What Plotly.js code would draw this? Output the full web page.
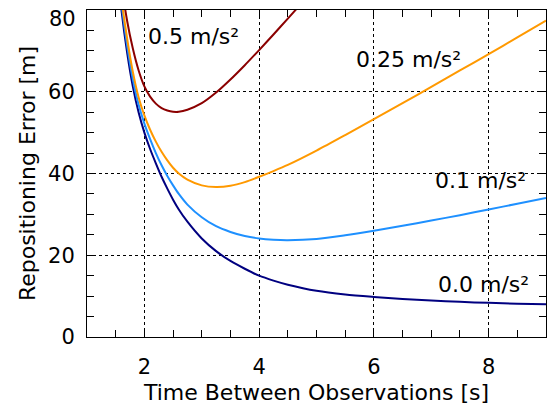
<!DOCTYPE html>
<html>
<head>
<meta charset="utf-8">
<script src="https://cdn.plot.ly/plotly-3.0.1.min.js"></script>
<style>html,body{margin:0;padding:0;background:#fff;}#chart{width:556px;height:405px;}</style>
</head>
<body>
<div id="chart"></div>
<script>
// Time between observations [s]
const tCommon = [1.5,1.6,1.7,1.8,1.9,2.0,2.1,2.2,2.3,2.4,2.5,2.6,2.75,3.0,3.25,3.5,3.75,4.0,4.25,4.5,5.0,5.5,6.0,6.5,7.0,7.5,8.0,8.5,9.0];
const tHigh = [1.5,1.6,1.7,1.8,1.9,2.0,2.1,2.2,2.3,2.4,2.5,2.6,2.75,3.0,3.25,3.5,3.75,4.0,4.25,4.5,4.75,5.0];

// Repositioning error [m] per acceleration
const err00 = [94,80,69.5,61.2,54.9,50.0,46.0,42.5,39.2,36.3,33.6,31.2,28.2,24.1,21.0,18.6,16.7,15.0,13.8,12.8,11.3,10.4,9.8,9.3,8.9,8.6,8.35,8.15,8.0];
const err01 = [96,81.8,71.3,63.0,56.8,52.2,48.4,45.0,42.0,39.4,37.1,35.0,32.4,29.3,27.1,25.7,24.7,24.1,23.8,23.7,24.0,24.9,26.0,27.2,28.5,29.8,31.2,32.6,34.0];
const err025 = [98,83,73,64.8,58.6,54.2,50.7,47.8,45.3,43.2,41.4,40.0,38.5,37.1,36.7,37.0,37.9,39.2,40.6,42.1,45.6,49.4,53.3,57.2,61.2,65.2,69.2,73.3,77.4];
const err05 = [103,86.8,77.3,70.5,65.2,61.3,58.8,57.1,56.0,55.4,55.1,55.1,55.6,57.2,59.8,63.0,66.5,70.2,74.0,77.9,81.8,85.7];

const yTicks = [0,20,40,60,80];
const yTickText = ["0","20","40","60",""];   // top label "80" drawn as annotation (would be clipped at the paper edge)
const yTopLabel = "80";
const xTicks = [2,4,6,8];

const labels = ["0.0 m/s²","0.1 m/s²","0.25 m/s²","0.5 m/s²"];
const labelX = [7.91,7.86,6.60,2.86];
const labelY = [12.9,38.3,67.9,73.6];

const colors = ["#000080","#1E90FF","#FF9900","#8B0000"];

const traces = [
  {x:tCommon, y:err00, name:labels[0]},
  {x:tCommon, y:err01, name:labels[1]},
  {x:tCommon, y:err025, name:labels[2]},
  {x:tHigh, y:err05, name:labels[3]}
].map((tr,i)=>Object.assign(tr,{type:'scatter',mode:'lines',line:{color:colors[i],width:2,shape:'spline',smoothing:0.8},showlegend:false,hoverinfo:'skip'}));

const fontFam = "DejaVu Sans, sans-serif";
const annotations = labels.map((s,i)=>({x:labelX[i],y:labelY[i],xref:'x',yref:'y',text:s,showarrow:false,xanchor:'center',yanchor:'middle',font:{family:fontFam,size:22,color:'#000'}}));
annotations.push({x:0,xref:'paper',y:yTicks[4],yref:'y',text:yTopLabel,showarrow:false,xanchor:'right',yanchor:'middle',xshift:-9,yshift:-9,font:{family:fontFam,size:21,color:'#000'}});

const axisCommon = {
  showline:true, linecolor:'#000', linewidth:1, mirror:'ticks',
  ticks:'inside', ticklen:7, tickwidth:1, tickcolor:'#000',
  showgrid:true, gridcolor:'#000', gridwidth:1, griddash:'dot',
  zeroline:false, tickfont:{family:fontFam,size:21,color:'#000'},
  tickmode:'array'
};

const layout = {
  width:556, height:405,
  margin:{l:87,r:10,t:10,b:68},
  paper_bgcolor:'#fff', plot_bgcolor:'#fff',
  xaxis:Object.assign({}, axisCommon, {
    range:[1,9], tickvals:xTicks, ticktext:xTicks.map(String), ticklabelstandoff:11,
    minor:{tickmode:'linear', tick0:0, dtick:0.5, ticks:'inside', ticklen:7, tickcolor:'#000', showgrid:false},
    title:{text:'Time Between Observations [s]', font:{family:fontFam,size:22,color:'#000'}, standoff:8}
  }),
  yaxis:Object.assign({}, axisCommon, {
    range:[0,80], tickvals:yTicks, ticktext:yTickText, ticklabelstandoff:7,
    minor:{tickmode:'linear', tick0:0, dtick:5, ticks:'inside', ticklen:7, tickcolor:'#000', showgrid:false},
    title:{text:'Repositioning Error [m]', font:{family:fontFam,size:22,color:'#000'}, standoff:6}
  }),
  annotations:annotations
};

Plotly.newPlot('chart', traces, layout, {displayModeBar:false, staticPlot:true});
</script>
</body>
</html>
